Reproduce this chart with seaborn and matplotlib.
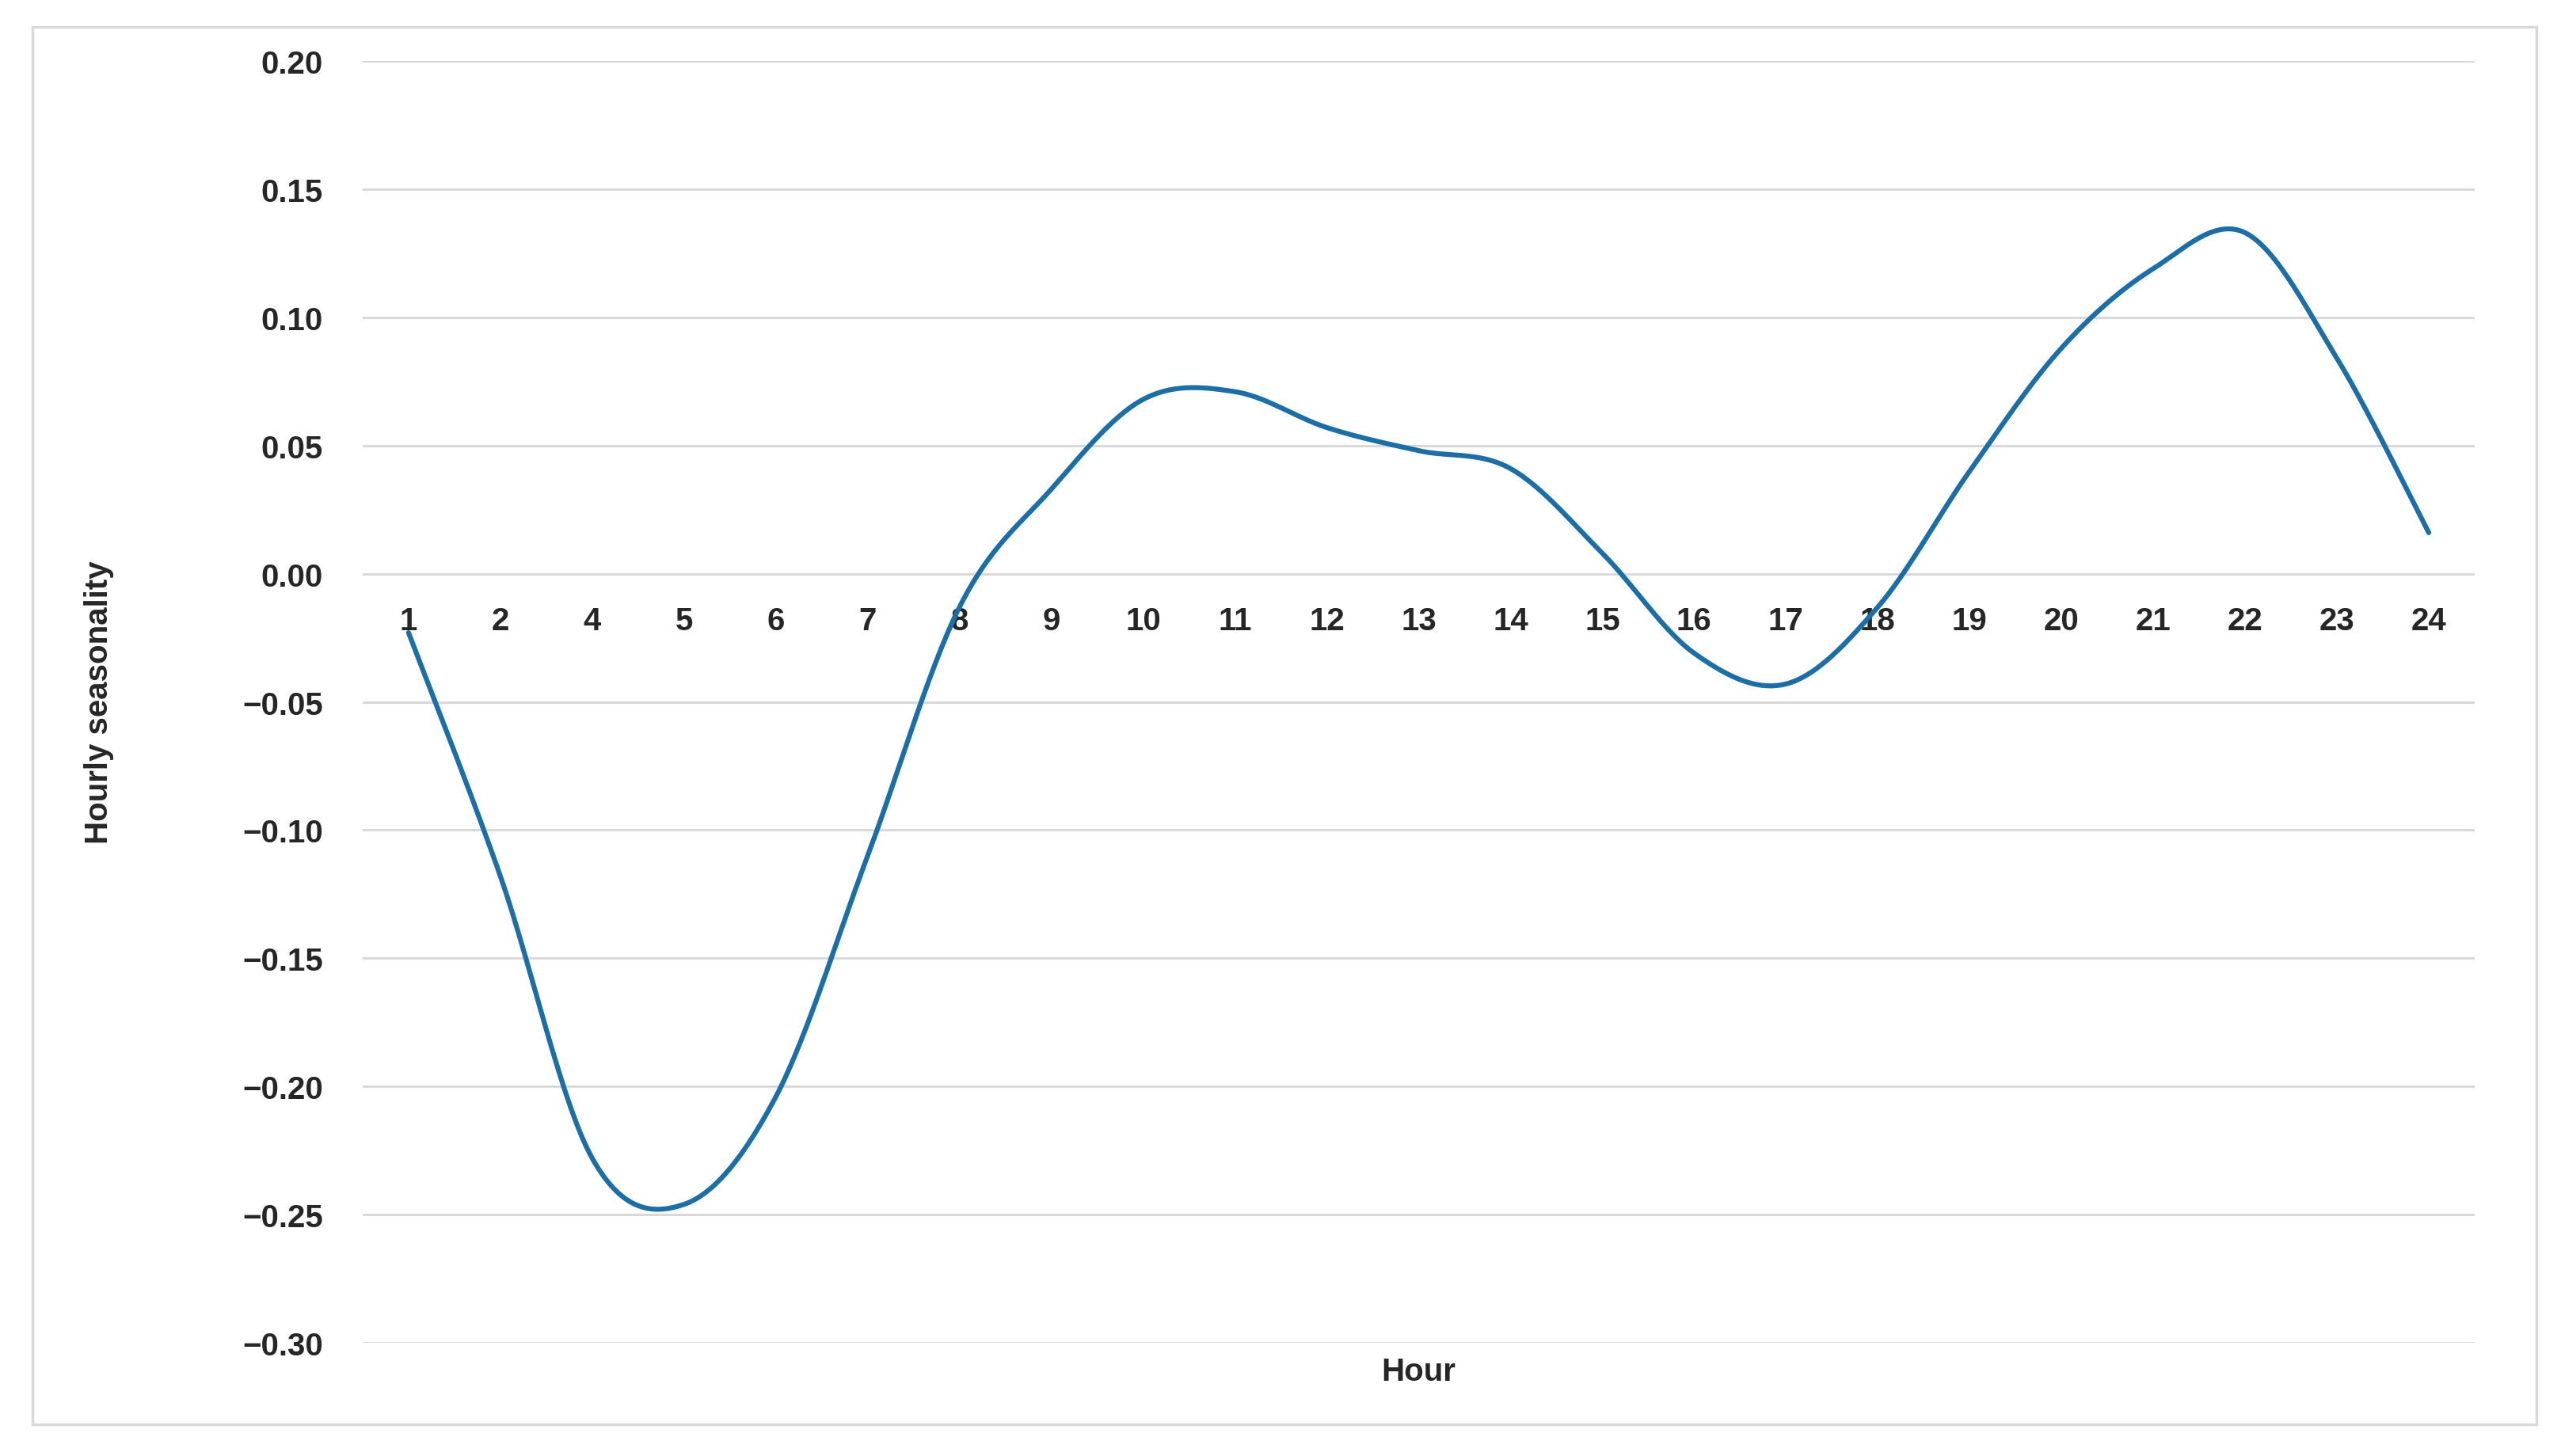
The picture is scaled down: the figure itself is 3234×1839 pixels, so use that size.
import matplotlib

matplotlib.use("Agg")
import matplotlib.pyplot as plt
import numpy as np
import pandas as pd
import seaborn as sns
from matplotlib.patches import Rectangle

# values (hour 3 is missing on the axis)
hours = ["1", "2", "4", "5", "6", "7", "8", "9", "10", "11", "12", "13",
         "14", "15", "16", "17", "18", "19", "20", "21", "22", "23", "24"]
seasonality = [-0.023, -0.118, -0.228, -0.246, -0.204, -0.110, -0.013,
               0.033, 0.068, 0.071, 0.057, 0.048, 0.041, 0.008, -0.031,
               -0.043, -0.013, 0.040, 0.088, 0.119, 0.133, 0.084, 0.016]
y_ticks = [0.20, 0.15, 0.10, 0.05, 0.00, -0.05, -0.10, -0.15, -0.20, -0.25, -0.30]

LINE = "#1c6ea4"
GRID = "#d9d9d9"
FS = 29


def smooth(y, n=30):
    """Excel-like smoothed line: cubic Bezier segments between the points."""
    p = np.column_stack([np.arange(len(y)), y]).astype(float)
    ext = np.vstack([p[0], p, p[-1]])
    t = np.linspace(0, 1, n, endpoint=False)[:, None]
    segs = []
    for i in range(len(p) - 1):
        p0, p1, p2, p3 = ext[i], ext[i + 1], ext[i + 2], ext[i + 3]
        c1 = p1 + (p2 - p0) / 6
        c2 = p2 - (p3 - p1) / 6
        segs.append((1 - t) ** 3 * p1 + 3 * (1 - t) ** 2 * t * c1
                    + 3 * (1 - t) * t ** 2 * c2 + t ** 3 * p2)
    segs.append(p[-1:])
    return np.vstack(segs)


sns.set_theme(style="white")
plt.rcParams["font.family"] = ["Liberation Sans", "DejaVu Sans"]

fig = plt.figure(figsize=(32.34, 18.4), dpi=100)
ax = fig.add_axes([0.1416, 0.0777, 0.8247, 0.8799])

curve = pd.DataFrame(smooth(seasonality), columns=["pos", "value"])
sns.lineplot(data=curve, x="pos", y="value", sort=False, ax=ax,
             color=LINE, linewidth=4.5)

ax.set_xlim(-0.5, len(hours) - 0.5)
ax.set_ylim(-0.30, 0.20)
ax.set_yticks(y_ticks)
ax.set_yticklabels([f"{v:.2f}".replace("-", "\u2212") for v in y_ticks])
ax.set_xticks(range(len(hours)))
ax.set_xticklabels(hours)
ax.yaxis.grid(True, color=GRID, linewidth=2.2)
ax.xaxis.grid(False)

# category labels sit just under the zero line, as in Excel
ax.spines["bottom"].set_position(("data", 0))
for s in ax.spines.values():
    s.set_visible(False)
ax.tick_params(axis="x", length=0, pad=29, labelsize=FS)
ax.tick_params(axis="y", length=0, pad=36, labelsize=FS)
for lab in ax.get_xticklabels() + ax.get_yticklabels():
    lab.set_fontweight("bold")

ax.set_xlabel("")
ax.set_ylabel("")
ax.text(0.5, -0.022, "Hour", transform=ax.transAxes, ha="center", va="center",
        fontsize=FS, fontweight="bold")
ax.text(-0.125, 0.5, "Hourly seasonality", transform=ax.transAxes, rotation=90,
        ha="center", va="center", fontsize=FS, fontweight="bold")

# light outer frame of the chart area
fig.patches.append(Rectangle((41 / 3234, 1 - 1800 / 1840), (3203 - 41) / 3234,
                             (1800 - 35) / 1840, transform=fig.transFigure,
                             fill=False, edgecolor=GRID, linewidth=2.5))

fig.savefig("out.png", dpi=100)
plt.close(fig)
